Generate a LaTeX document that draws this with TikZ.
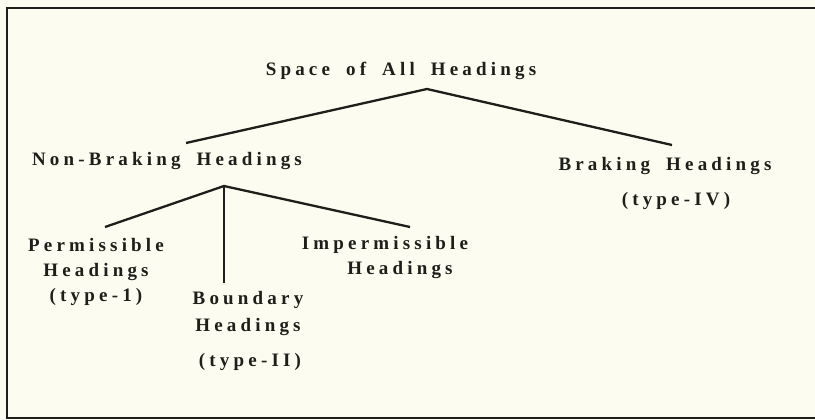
\documentclass[tikz,border=0pt]{standalone}
\usepackage{fontspec}
\setmainfont{Liberation Serif}[LetterSpace=22,WordSpace=1.8]
\definecolor{paper}{HTML}{FCFCF0}
\definecolor{ink}{HTML}{1E1E1A}
\begin{document}
\begin{tikzpicture}[x=1pt,y=-1pt,
  lbl/.style={inner sep=0pt, text=ink, font=\fontsize{19}{25}\selectfont\bfseries, align=center, anchor=center},
  conn/.style={draw=ink, line width=2.3pt},
  frame/.style={draw=ink, line width=2pt}]
\fill[paper] (0,0) rectangle (815,420);
\useasboundingbox (0,0) rectangle (815,420);
\draw[frame] (815,8) -- (7,8) -- (7,418) -- (815,418);

\node[lbl] (title) at (401,71) {Space of All Headings};
\node[lbl] (nb) at (167,161) {Non-Braking Headings};
\node[lbl] (br) at (665,166) {Braking Headings};
\node[lbl] (brt) at (676,201) {(type-IV)};
\node[lbl, align=center] (perm) at (96,272) {Permissible\\Headings\\(type-1)};
\node[lbl, align=center] (imp) at (385,258) {Impermissible\\\hspace*{30pt}Headings};
\node[lbl] (bd1) at (248,300) {Boundary};
\node[lbl] (bd2) at (248,327) {Headings};
\node[lbl] (bd3) at (250,362) {(type-II)};

\coordinate (ta) at (427,89);
\coordinate (tl) at (186,143);
\coordinate (tr) at (672,145);
\coordinate (na) at (224,186);
\coordinate (nl) at (105,227);
\coordinate (nr) at (410,227);
\coordinate (nd) at (224,283);

\draw[conn] (tl) -- (ta) -- (tr);
\draw[conn] (nl) -- (na) -- (nr);
\draw[conn] (na) -- (nd);
\end{tikzpicture}
\end{document}
